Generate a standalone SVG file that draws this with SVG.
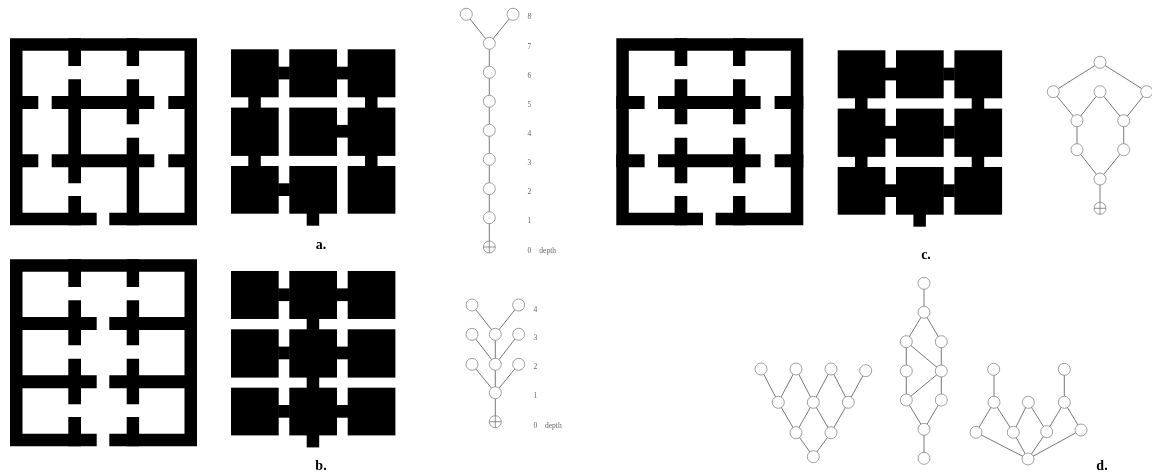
<svg xmlns="http://www.w3.org/2000/svg" width="1152" height="475" viewBox="0 0 1152 475">
<style>
.k{fill:#000}
.e{stroke:#555;stroke-width:.8;fill:none}
.n{fill:#fff;stroke:#888;stroke-width:.8}
.x{stroke:#666;stroke-width:.7;fill:none}
.t{font-family:"Liberation Serif",serif;font-size:7.5px;fill:#666;text-anchor:start}
.c{font-family:"Liberation Serif",serif;font-size:14px;font-weight:bold;fill:#000;text-anchor:middle}
.labels{filter:url(#soft)}
</style>
<defs>
<filter id="soft" x="-20%" y="-20%" width="140%" height="140%"><feGaussianBlur stdDeviation="0.2"/></filter>
<path id="shell" class="k" d="M0 0H187V12.5H0ZM0 0H12.5V187H0ZM174.5 0H187V187H174.5ZM0 174.5H86.7V187H0ZM99.3 174.5H187V187H99.3Z"/>
<path id="cols-all" class="k" d="M58.3 0H71V27.7H58.3ZM58.3 41H71V86H58.3ZM58.3 99.4H71V145H58.3ZM58.3 157.7H71V187H58.3ZM116.7 0H129.1V27.7H116.7ZM116.7 41H129.1V86H116.7ZM116.7 99.4H129.1V145H116.7ZM116.7 157.7H129.1V187H116.7Z"/>
<path id="rows-side" class="k" d="M0 57.7H28.3V70.7H0ZM41.7 57.7H144.3V70.7H41.7ZM158.3 57.7H187V70.7H158.3ZM0 116H28.3V129H0ZM41.7 116H144.3V129H41.7ZM158.3 116H187V129H158.3Z"/>
<path id="rows-mid" class="k" d="M0 57.7H86.7V70.7H0ZM99.3 57.7H187V70.7H99.3ZM0 116H86.7V129H0ZM99.3 116H187V129H99.3Z"/>
<path id="cols-a" class="k" d="M58.3 0H71V27.7H58.3ZM58.3 41H71V145H58.3ZM58.3 157.7H71V187H58.3ZM116.7 0H129.1V27.7H116.7ZM116.7 41H129.1V86H116.7ZM116.7 99.4H129.1V187H116.7Z"/>
<g id="cells">
<rect class="k" x="0" y="0" width="47.7" height="48"/><rect class="k" x="58.3" y="0" width="47.7" height="48"/><rect class="k" x="116.7" y="0" width="47.7" height="48"/>
<rect class="k" x="0" y="58.3" width="47.7" height="48.3"/><rect class="k" x="58.3" y="58.3" width="47.7" height="48.3"/><rect class="k" x="116.7" y="58.3" width="47.7" height="48.3"/>
<rect class="k" x="0" y="116.7" width="47.7" height="47.7"/><rect class="k" x="58.3" y="116.7" width="47.7" height="47.7"/><rect class="k" x="116.7" y="116.7" width="47.7" height="47.7"/>
</g>
<rect id="ch" class="k" width="11.6" height="12.7"/>
<rect id="cv" class="k" width="12.5" height="11.4"/>
<rect id="exit" class="k" width="12.5" height="13"/>
</defs>
<rect width="1152" height="475" fill="#fff"/>

<g id="plan-a" transform="translate(10 38.3)">
<use href="#shell"/><use href="#cols-a"/><use href="#rows-side"/>
</g>
<g id="negative-a" transform="translate(231 49.3)">
<use href="#cells"/>
<use href="#ch" x="47.2" y="17.4"/><use href="#ch" x="105.5" y="17.4"/><use href="#ch" x="105.5" y="75.6"/><use href="#ch" x="47.2" y="134"/>
<use href="#cv" x="17.3" y="47.5"/><use href="#cv" x="134" y="47.5"/><use href="#cv" x="17.3" y="105.8"/><use href="#cv" x="134" y="105.8"/><use href="#exit" x="75.7" y="163.4"/>
</g>
<text class="c labels" x="321" y="249">a.</text>

<g id="plan-b" transform="translate(10 259.3)">
<use href="#shell"/><use href="#cols-all"/><use href="#rows-mid"/>
</g>
<g id="negative-b" transform="translate(231 271)">
<use href="#cells"/>
<use href="#ch" x="47.2" y="17.4"/><use href="#ch" x="105.5" y="17.4"/><use href="#ch" x="47.2" y="75.6"/><use href="#ch" x="105.5" y="75.6"/><use href="#ch" x="47.2" y="134"/><use href="#ch" x="105.5" y="134"/>
<use href="#cv" x="75.7" y="47.5"/><use href="#cv" x="75.7" y="105.8"/><use href="#exit" x="75.7" y="163.4"/>
</g>
<text class="c labels" x="321" y="470">b.</text>

<g id="plan-c" transform="translate(616.3 38.3)">
<use href="#shell"/><use href="#cols-all"/><use href="#rows-side"/>
</g>
<g id="negative-c" transform="translate(837.7 50.3)">
<use href="#cells"/>
<use href="#ch" x="47.2" y="17.4"/><use href="#ch" x="105.5" y="17.4"/><use href="#ch" x="47.2" y="75.6"/><use href="#ch" x="105.5" y="75.6"/><use href="#ch" x="47.2" y="134"/><use href="#ch" x="105.5" y="134"/>
<use href="#cv" x="17.3" y="47.5"/><use href="#cv" x="134" y="47.5"/><use href="#cv" x="17.3" y="105.8"/><use href="#cv" x="134" y="105.8"/><use href="#exit" x="75.7" y="163.4"/>
</g>
<text class="c labels" x="926" y="259">c.</text>
<text class="c labels" x="1102" y="470">d.</text>

<g id="connectors" class="e">
<path d="M466.3 14.3L489.3 43.3M513 14.3L489.3 43.3M489.3 43.3V247"/>
<path d="M472 305L495.3 334.3M518.7 305L495.3 334.3M472 334.3L495.3 364.3M518.7 334.3L495.3 364.3M495.3 334.3V364.3M472 364.3L495.3 392.7M518.7 364.3L495.3 392.7M495.3 364.3V421.7"/>
<path d="M1100 62.3L1053.3 91.7M1100 62.3L1146.7 91.7M1053.3 91.7L1077 120.7M1100 91.7L1077 120.7M1100 91.7L1123.7 120.7M1146.7 91.7L1123.7 120.7M1077 120.7V149.7M1123.7 120.7V149.7M1077 149.7L1100 179M1123.7 149.7L1100 179M1100 179V208.3"/>
<path d="M761 369L778.3 402.3M796 369L778.3 402.3M796 369L813.3 402.3M831 369L813.3 402.3M831 369L848.3 402.3M865.7 370.7L848.3 402.3M778.3 402.3L796 432.7M813.3 402.3L796 432.7M813.3 402.3L831 432.7M848.3 402.3L831 432.7M796 432.7L813.3 456.7M831 432.7L813.3 456.7"/>
<path d="M924 283.3V312.3M924 312.3L906.3 341.7M924 312.3L941.3 341.7M906.3 341.7V400M941.3 341.7V400M906.3 341.7L941.3 371M906.3 400L941.3 371M906.3 400L924 429.3M941.3 400L924 429.3M924 429.3V458.3"/>
<path d="M994 369.3V402.3M1064.3 369.3V402.3M994 402.3L976 432.3M994 402.3L1013.3 432.3M1028.3 402.3L1013.3 432.3M1028.3 402.3L1046.7 431.7M1064.3 402.3L1046.7 431.7M1064.3 402.3L1081 430M976 432.3L1028 459M1013.3 432.3L1028 459M1046.7 431.7L1028 459M1081 430L1028 459"/>
</g>

<g id="tree-a">
<g id="a1"><circle class="n" cx="466.3" cy="14.3" r="6"/></g>
<g id="a2"><circle class="n" cx="513" cy="14.3" r="6"/></g>
<g id="a3"><circle class="n" cx="489.3" cy="43.3" r="6"/></g>
<g id="a4"><circle class="n" cx="489.3" cy="72.3" r="6"/></g>
<g id="a5"><circle class="n" cx="489.3" cy="101.3" r="6"/></g>
<g id="a6"><circle class="n" cx="489.3" cy="130.3" r="6"/></g>
<g id="a7"><circle class="n" cx="489.3" cy="159.3" r="6"/></g>
<g id="a8"><circle class="n" cx="489.3" cy="188.7" r="6"/></g>
<g id="a9"><circle class="n" cx="489.3" cy="217.7" r="6"/></g>
<g id="a10"><circle class="n" cx="489.3" cy="247" r="6"/><path class="x" d="M483.3 247H495.3M489.3 241V253"/></g>
<g class="labels"><text class="t" x="527.5" y="19">8</text><text class="t" x="527.5" y="48.5">7</text><text class="t" x="527.5" y="77.8">6</text><text class="t" x="527.5" y="106.8">5</text><text class="t" x="527.5" y="135.8">4</text><text class="t" x="527.5" y="164.8">3</text><text class="t" x="527.5" y="194.2">2</text><text class="t" x="527.5" y="223.2">1</text><text class="t" x="527.5" y="252.5">0</text><text class="t" x="539.3" y="252.5">depth</text></g>
</g>

<g id="tree-b">
<g id="b1"><circle class="n" cx="472" cy="305" r="6"/></g>
<g id="b2"><circle class="n" cx="518.7" cy="305" r="6"/></g>
<g id="b3"><circle class="n" cx="472" cy="334.3" r="6"/></g>
<g id="b4"><circle class="n" cx="495.3" cy="334.3" r="6"/></g>
<g id="b5"><circle class="n" cx="518.7" cy="334.3" r="6"/></g>
<g id="b6"><circle class="n" cx="472" cy="364.3" r="6"/></g>
<g id="b7"><circle class="n" cx="495.3" cy="364.3" r="6"/></g>
<g id="b8"><circle class="n" cx="518.7" cy="364.3" r="6"/></g>
<g id="b9"><circle class="n" cx="495.3" cy="392.7" r="6"/></g>
<g id="b10"><circle class="n" cx="495.3" cy="421.7" r="6"/><path class="x" d="M489.3 421.7H501.3M495.3 415.7V427.7"/></g>
<g class="labels"><text class="t" x="533.5" y="311.5">4</text><text class="t" x="533.5" y="340.2">3</text><text class="t" x="533.5" y="369.2">2</text><text class="t" x="533.5" y="398.2">1</text><text class="t" x="533.5" y="427.5">0</text><text class="t" x="545" y="427.5">depth</text></g>
</g>

<g id="tree-c">
<g id="c1"><circle class="n" cx="1100" cy="62.3" r="6"/></g>
<g id="c2"><circle class="n" cx="1053.3" cy="91.7" r="6"/></g>
<g id="c3"><circle class="n" cx="1100" cy="91.7" r="6"/></g>
<g id="c4"><circle class="n" cx="1146.7" cy="91.7" r="6"/></g>
<g id="c5"><circle class="n" cx="1077" cy="120.7" r="6"/></g>
<g id="c6"><circle class="n" cx="1123.7" cy="120.7" r="6"/></g>
<g id="c7"><circle class="n" cx="1077" cy="149.7" r="6"/></g>
<g id="c8"><circle class="n" cx="1123.7" cy="149.7" r="6"/></g>
<g id="c9"><circle class="n" cx="1100" cy="179" r="6"/></g>
<g id="c10"><circle class="n" cx="1100" cy="208.3" r="6"/><path class="x" d="M1094 208.3H1106M1100 202.3V214.3"/></g>
</g>

<g id="tree-d1">
<g id="d1"><circle class="n" cx="761" cy="369" r="6"/></g>
<g id="d2"><circle class="n" cx="796" cy="369" r="6"/></g>
<g id="d3"><circle class="n" cx="831" cy="369" r="6"/></g>
<g id="d4"><circle class="n" cx="865.7" cy="370.7" r="6"/></g>
<g id="d5"><circle class="n" cx="778.3" cy="402.3" r="6"/></g>
<g id="d6"><circle class="n" cx="813.3" cy="402.3" r="6"/></g>
<g id="d7"><circle class="n" cx="848.3" cy="402.3" r="6"/></g>
<g id="d8"><circle class="n" cx="796" cy="432.7" r="6"/></g>
<g id="d9"><circle class="n" cx="831" cy="432.7" r="6"/></g>
<g id="d10"><circle class="n" cx="813.3" cy="456.7" r="6"/></g>
</g>

<g id="tree-d2">
<g id="e1"><circle class="n" cx="924" cy="283.3" r="6"/></g>
<g id="e2"><circle class="n" cx="924" cy="312.3" r="6"/></g>
<g id="e3"><circle class="n" cx="906.3" cy="341.7" r="6"/></g>
<g id="e4"><circle class="n" cx="941.3" cy="341.7" r="6"/></g>
<g id="e5"><circle class="n" cx="906.3" cy="371" r="6"/></g>
<g id="e6"><circle class="n" cx="941.3" cy="371" r="6"/></g>
<g id="e7"><circle class="n" cx="906.3" cy="400" r="6"/></g>
<g id="e8"><circle class="n" cx="941.3" cy="400" r="6"/></g>
<g id="e9"><circle class="n" cx="924" cy="429.3" r="6"/></g>
<g id="e10"><circle class="n" cx="924" cy="458.3" r="6"/></g>
</g>

<g id="tree-d3">
<g id="f1"><circle class="n" cx="993.7" cy="369.3" r="6"/></g>
<g id="f2"><circle class="n" cx="1064.3" cy="369.3" r="6"/></g>
<g id="f3"><circle class="n" cx="994" cy="402.3" r="6"/></g>
<g id="f4"><circle class="n" cx="1028.3" cy="402.3" r="6"/></g>
<g id="f5"><circle class="n" cx="1064.3" cy="402.3" r="6"/></g>
<g id="f6"><circle class="n" cx="976" cy="432.3" r="6"/></g>
<g id="f7"><circle class="n" cx="1013.3" cy="432.3" r="6"/></g>
<g id="f8"><circle class="n" cx="1046.7" cy="431.7" r="6"/></g>
<g id="f9"><circle class="n" cx="1081" cy="430" r="6"/></g>
<g id="f10"><circle class="n" cx="1028" cy="459" r="6"/></g>
</g>
</svg>
